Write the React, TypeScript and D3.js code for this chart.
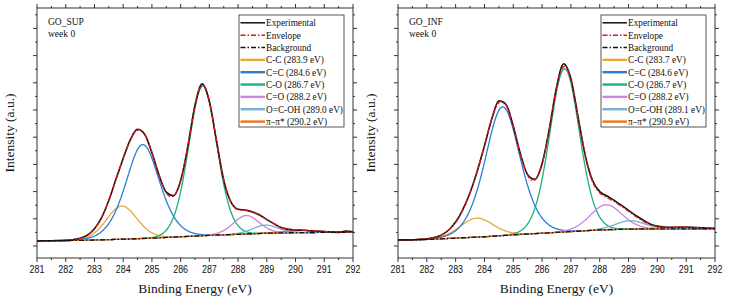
import React from "react";
import * as d3 from "d3";

// ---------- shared labels ----------
const energyTicks = [281, 282, 283, 284, 285, 286, 287, 288, 289, 290, 291, 292];
const componentNames = ["C-C", "C=C", "C-O", "C=O", "O=C-OH", "π–π*"];
const componentColors = ["#e8a838", "#2a7fd5", "#1cb27a", "#c986e0", "#78aed6", "#f2721f"];

// experimental spectra are read every 0.25 eV from 281 to 292 eV
const expEnergy = [
  281, 281.25, 281.5, 281.75, 282, 282.25, 282.5, 282.75, 283, 283.25, 283.5, 283.75, 284, 284.25, 284.5,
  284.75, 285, 285.25, 285.5, 285.75, 286, 286.25, 286.5, 286.75, 287, 287.25, 287.5, 287.75, 288, 288.25,
  288.5, 288.75, 289, 289.25, 289.5, 289.75, 290, 290.25, 290.5, 290.75, 291, 291.25, 291.5, 291.75, 292,
];

// ---------- GO_SUP (left) ----------
const supTitle = "GO_SUP";
const supPositionsText = ["283.9", "284.6", "286.7", "288.2", "289.0", "290.2"];
const supExperimental = [
  1.9, 1.95, 1.93, 2.02, 2.08, 2.32, 2.85, 4.0, 6.35, 10.4, 16.8, 24.6, 32.2, 39.1, 42.9,
  41.0, 34.3, 26.0, 19.8, 18.5, 24.0, 36.6, 51.8, 59.6, 53.1, 38.6, 24.2, 16.2, 13.5, 13.2,
  12.5, 11.4, 9.7, 8.2, 6.8, 6.1, 5.9, 5.8, 5.6, 5.45, 5.3, 5.15, 5.0, 5.5, 5.2,
];
const supBgEnergy = [281, 282, 283, 284, 285, 286, 287, 288, 289, 290, 291, 292];
const supBgValue = [1.9, 2.0, 2.2, 2.5, 2.9, 3.4, 3.9, 4.3, 4.7, 4.9, 5.0, 5.1];
const supCenters = [283.95, 284.68, 286.77, 288.28, 288.95, 290.2];
const supHeights = [12.2, 34.5, 55, 6.8, 3.0, 0.8];
const supFwhm = [1.3, 1.45, 1.2, 1.1, 1.1, 1.5];
const supMix = [0.3, 0.5, 0.3, 0.3, 0.3, 0.3];

// ---------- GO_INF (right) ----------
const infTitle = "GO_INF";
const infPositionsText = ["283.7", "284.6", "286.7", "288.2", "289.1", "290.9"];
const infExperimental = [
  2.2, 2.25, 2.3, 2.45, 2.6, 3.1, 4.0, 5.8, 8.8, 13.4, 19.6, 27.5, 36.8, 46.6, 53.4,
  52.0, 44.0, 33.8, 26.2, 24.5, 30.3, 43.0, 58.3, 67.0, 61.5, 47.4, 33.2, 24.1, 20.0, 18.4,
  16.8, 15.0, 13.1, 11.2, 9.6, 8.1, 7.3, 7.0, 6.9, 6.85, 6.9, 6.8, 6.7, 6.6, 6.5,
];
const infBgEnergy = [281, 282, 283, 284, 285, 286, 287, 288, 289, 290, 291, 292];
const infBgValue = [2.2, 2.4, 2.9, 3.4, 4.1, 4.7, 5.3, 5.9, 6.2, 6.3, 6.3, 6.3];
const infCenters = [283.73, 284.63, 286.78, 288.22, 289.05, 290.9];
const infHeights = [7.0, 47.3, 60, 9.2, 3.1, 0.6];
const infFwhm = [1.4, 1.5, 1.27, 1.35, 1.25, 1.6];
const infMix = [0.3, 0.5, 0.3, 0.3, 0.3, 0.3];

const weekLabel = "week 0";
const xTitle = "Binding Energy (eV)";
const yTitle = "Intensity (a.u.)";

type PanelData = {
  title: string;
  posText: string[];
  exp: number[];
  bgE: number[];
  bgV: number[];
  centers: number[];
  heights: number[];
  fwhm: number[];
  mix: number[];
};

const panels: { data: PanelData; x0: number; x1: number }[] = [
  {
    data: { title: supTitle, posText: supPositionsText, exp: supExperimental, bgE: supBgEnergy, bgV: supBgValue, centers: supCenters, heights: supHeights, fwhm: supFwhm, mix: supMix },
    x0: 37, x1: 353,
  },
  {
    data: { title: infTitle, posText: infPositionsText, exp: infExperimental, bgE: infBgEnergy, bgV: infBgValue, centers: infCenters, heights: infHeights, fwhm: infFwhm, mix: infMix },
    x0: 398, x1: 715,
  },
];

const Y0 = 8;
const Y1 = 258;
const SERIF = "'Liberation Serif', 'Times New Roman', serif";
const SANS = "'Liberation Sans', Arial, sans-serif";
const DASHDOT = "5 2 1.5 2";

// Gaussian-Lorentzian product line shape (fitted component)
function gl(x: number, c: number, h: number, f: number, m: number) {
  const u = (x - c) / f;
  const u2 = u * u;
  return (h * Math.exp(-4 * Math.LN2 * (1 - m) * u2)) / (1 + 4 * m * u2);
}

function Panel({ data, x0, x1 }: { data: PanelData; x0: number; x1: number }) {
  const x = d3.scaleLinear().domain([281, 292]).range([x0, x1]);
  const y = d3.scaleLinear().domain([-4.4118, 87.5]).range([Y1, Y0]);
  const bg = d3.scaleLinear().domain(data.bgE).range(data.bgV);
  const grid = d3.range(281, 292.0001, 0.02);

  const line = d3
    .line<[number, number]>()
    .x((d) => x(d[0]))
    .y((d) => y(d[1]))
    .curve(d3.curveMonotoneX);

  const comps = data.centers.map((c, i) =>
    grid.map((e) => [e, bg(e) + gl(e, c, data.heights[i], data.fwhm[i], data.mix[i])] as [number, number])
  );
  const envelope = grid.map(
    (e) =>
      [e, bg(e) + data.centers.reduce((s, c, i) => s + gl(e, c, data.heights[i], data.fwhm[i], data.mix[i]), 0)] as [number, number]
  );
  const bgLine = data.bgE.map((e, i) => [e, data.bgV[i]] as [number, number]);
  const expLine = expEnergy.map((e, i) => [e, data.exp[i]] as [number, number]);

  const majorX = energyTicks;
  const minorX = energyTicks.slice(0, -1).map((t) => t + 0.5);
  const majorY = d3.range(0, 81, 10);
  const minorY = d3.range(5, 86, 10);

  const lgW = 105;
  const lgX = x1 - 9 - lgW;
  const lgY = 15;
  const rowY = (i: number) => lgY + 7.8 + i * 12.35;
  const legendRows = [
    { label: "Experimental", color: "#111", dash: undefined as string | undefined, w: 1.5 },
    { label: "Envelope", color: "#e3141b", dash: DASHDOT, w: 1.5 },
    { label: "Background", color: "#111", dash: DASHDOT, w: 1.5 },
    ...componentNames.map((n, i) => ({
      label: `${n} (${data.posText[i]} eV)`,
      color: componentColors[i],
      dash: undefined as string | undefined,
      w: 2.4,
    })),
  ];

  return (
    <g>
      <defs>
        <clipPath id={`clip-${x0}`}>
          <rect x={x0} y={Y0} width={x1 - x0} height={Y1 - Y0} />
        </clipPath>
      </defs>
      <g clipPath={`url(#clip-${x0})`}>
        {comps.map((pts, i) => (
          <path key={i} d={line(pts) || ""} fill="none" stroke={componentColors[i]} strokeWidth={1.3} />
        ))}
        <path d={line(expLine) || ""} fill="none" stroke="#111" strokeWidth={1.6} />
        <path d={line(envelope) || ""} fill="none" stroke="#e3141b" strokeWidth={1.4} strokeDasharray={DASHDOT} />
        <path d={line(bgLine) || ""} fill="none" stroke="#111" strokeWidth={1.3} strokeDasharray={DASHDOT} />
      </g>
      {/* frame */}
      <rect x={x0} y={Y0} width={x1 - x0} height={Y1 - Y0} fill="none" stroke="#333" strokeWidth={1} />
      {majorX.map((t) => (
        <g key={`mx${t}`}>
          <line x1={x(t)} x2={x(t)} y1={Y1} y2={Y1 + 4} stroke="#333" />
          <line x1={x(t)} x2={x(t)} y1={Y0} y2={Y0 - 4} stroke="#333" />
          <text
            transform={`translate(${x(t)},272.5) scale(0.85,1)`}
            textAnchor="middle"
            fontFamily={SANS}
            fontSize={10.5}
            fill="#111"
          >
            {t}
          </text>
        </g>
      ))}
      {minorX.map((t) => (
        <g key={`nx${t}`}>
          <line x1={x(t)} x2={x(t)} y1={Y1} y2={Y1 + 2} stroke="#333" />
          <line x1={x(t)} x2={x(t)} y1={Y0} y2={Y0 - 2} stroke="#333" />
        </g>
      ))}
      {majorY.map((t) => (
        <g key={`my${t}`}>
          <line x1={x0} x2={x0 - 4} y1={y(t)} y2={y(t)} stroke="#333" />
          <line x1={x1} x2={x1 + 4} y1={y(t)} y2={y(t)} stroke="#333" />
        </g>
      ))}
      {minorY.map((t) => (
        <g key={`ny${t}`}>
          <line x1={x0} x2={x0 - 2} y1={y(t)} y2={y(t)} stroke="#333" />
          <line x1={x1} x2={x1 + 2} y1={y(t)} y2={y(t)} stroke="#333" />
        </g>
      ))}
      {/* titles */}
      <text x={(x0 + x1) / 2} y={293} textAnchor="middle" fontFamily={SERIF} fontSize={13.5} fill="#111">
        {xTitle}
      </text>
      <text
        transform={`translate(${x0 - 23},${(Y0 + Y1) / 2}) rotate(-90)`}
        textAnchor="middle"
        fontFamily={SERIF}
        fontSize={13.5}
        fill="#111"
      >
        {yTitle}
      </text>
      <text x={x0 + 11} y={25} fontFamily={SERIF} fontSize={9.5} fill="#111">
        {data.title}
      </text>
      <text x={x0 + 11} y={36.5} fontFamily={SERIF} fontSize={9.5} fill="#111">
        {weekLabel}
      </text>
      {/* legend */}
      <rect x={lgX} y={lgY} width={lgW} height={112} fill="#fff" stroke="#444" strokeWidth={0.9} />
      {legendRows.map((r, i) => (
        <g key={r.label}>
          <line x1={lgX + 1.5} x2={lgX + 26} y1={rowY(i)} y2={rowY(i)} stroke={r.color} strokeWidth={r.w} strokeDasharray={r.dash} />
          <text
            transform={`translate(${lgX + 27},${rowY(i) + 3.5}) scale(0.9,1)`}
            fontFamily={SERIF}
            fontSize={10.3}
            fill="#111"
          >
            {r.label}
          </text>
        </g>
      ))}
    </g>
  );
}

export default function App() {
  return (
    <svg width={730} height={302} style={{ position: "absolute", left: 0, top: 0, background: "#fff" }}>
      <rect x={0} y={0} width={730} height={302} fill="#fff" />
      {panels.map((p) => (
        <Panel key={p.x0} data={p.data} x0={p.x0} x1={p.x1} />
      ))}
    </svg>
  );
}
